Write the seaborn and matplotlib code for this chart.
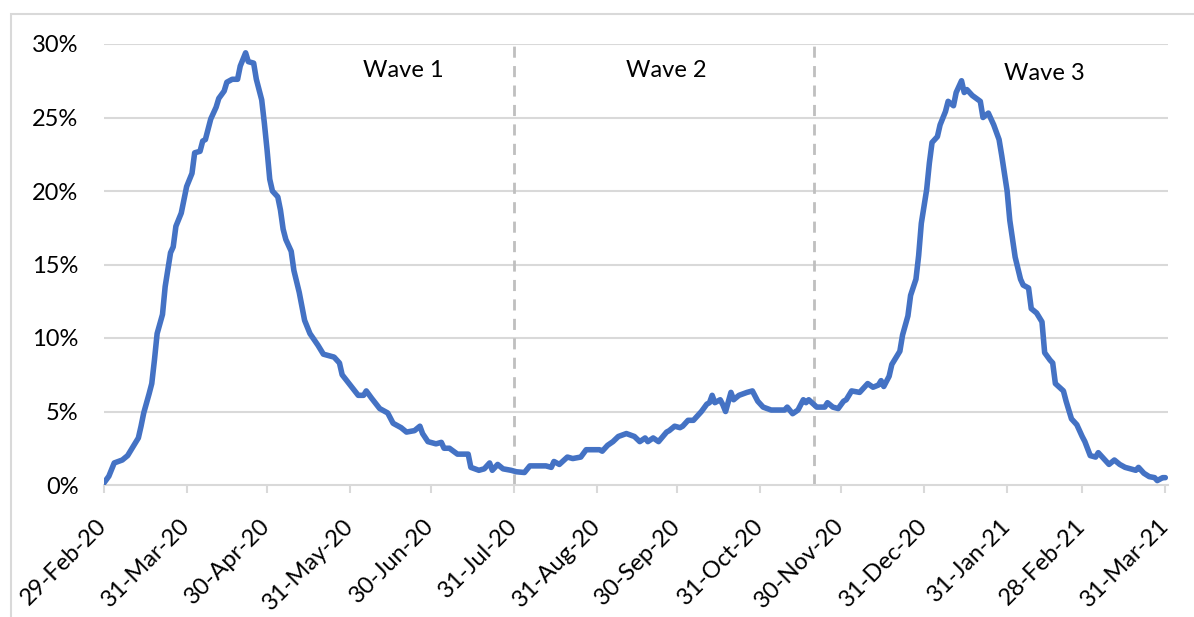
import numpy as np
import pandas as pd
import matplotlib
matplotlib.use("Agg")
import matplotlib.pyplot as plt
import matplotlib.dates as mdates
from matplotlib.patches import Rectangle
import seaborn as sns

# ---- data ----
start_date = "2020-02-29"
day_offset = [0, 2, 4, 7, 9, 11, 13, 14, 15, 17, 18, 19, 20, 22, 23, 25, 26, 27, 29, 31,
              33, 34, 36, 37, 38, 40, 42, 43, 45, 46, 48, 50, 51, 53, 54, 56, 57, 59, 60, 61,
              62, 63, 65, 66, 67, 68, 70, 71, 73, 75, 77, 80, 82, 86, 88, 89, 92, 95, 97, 98,
              100, 103, 106, 108, 111, 113, 116, 118, 119, 121, 124, 126, 127, 129, 132, 136, 137, 140, 142, 144,
              145, 147, 149, 152, 154, 157, 159, 165, 167, 168, 170, 173, 175, 178, 180, 185, 186, 188, 190, 192,
              195, 198, 200, 202, 203, 205, 207, 210, 211, 213, 215, 216, 218, 220, 223, 225, 226, 227, 228, 230,
              231, 232, 234, 235, 237, 240, 242, 244, 246, 249, 254, 255, 257, 259, 261, 262, 263, 266, 269, 270,
              272, 274, 276, 277, 279, 282, 285, 287, 289, 290, 291, 293, 294, 297, 298, 300, 301, 303, 304, 305,
              307, 308, 309, 311, 312, 314, 315, 317, 318, 320, 321, 322, 324, 327, 328, 330, 332, 334, 335, 337,
              338, 340, 342, 343, 345, 346, 348, 350, 351, 353, 354, 355, 358, 359, 361, 363, 365, 366, 368, 370,
              371, 373, 375, 377, 379, 381, 383, 385, 386, 388, 390, 392, 393, 395, 396]
positivity_pct = [0.1, 0.6, 1.5, 1.7, 2.0, 2.6, 3.2, 4.0, 4.9, 6.2, 6.9, 8.5, 10.3, 11.6, 13.5, 15.8, 16.2, 17.6, 18.5, 20.3,
                  21.2, 22.6, 22.7, 23.4, 23.5, 24.9, 25.7, 26.3, 26.8, 27.4, 27.6, 27.6, 28.5, 29.4, 28.8, 28.7, 27.6, 26.2, 24.6, 22.8,
                  20.8, 20.0, 19.6, 18.7, 17.4, 16.7, 15.9, 14.6, 13.1, 11.2, 10.3, 9.5, 8.9, 8.7, 8.3, 7.5, 6.8, 6.1, 6.1, 6.4,
                  5.9, 5.2, 4.9, 4.2, 3.9, 3.6, 3.7, 4.0, 3.5, 2.95, 2.8, 2.9, 2.5, 2.5, 2.1, 2.1, 1.2, 1.0, 1.1, 1.5,
                  1.0, 1.4, 1.1, 1.0, 0.9, 0.85, 1.3, 1.3, 1.2, 1.6, 1.4, 1.9, 1.8, 1.9, 2.4, 2.4, 2.3, 2.7, 2.95, 3.3,
                  3.5, 3.3, 2.95, 3.2, 2.95, 3.2, 2.95, 3.6, 3.7, 4.0, 3.9, 4.0, 4.4, 4.4, 5.0, 5.5, 5.6, 6.1, 5.6, 5.8,
                  5.45, 5.0, 6.3, 5.8, 6.1, 6.3, 6.4, 5.7, 5.3, 5.1, 5.1, 5.3, 4.85, 5.1, 5.8, 5.6, 5.8, 5.3, 5.3, 5.6,
                  5.3, 5.2, 5.7, 5.8, 6.4, 6.3, 6.9, 6.65, 6.8, 7.1, 6.7, 7.4, 8.2, 9.1, 10.2, 11.5, 12.9, 14.0, 15.6, 17.8,
                  20.1, 21.9, 23.3, 23.7, 24.5, 25.4, 26.1, 25.8, 26.7, 27.5, 26.7, 26.9, 26.5, 26.1, 25.0, 25.3, 24.5, 23.5, 22.4, 20.0,
                  18.0, 15.5, 14.0, 13.6, 13.4, 12.0, 11.7, 11.1, 9.0, 8.5, 8.3, 6.9, 6.4, 5.7, 4.5, 4.1, 3.3, 2.95, 2.0, 1.9,
                  2.2, 1.8, 1.4, 1.7, 1.4, 1.2, 1.1, 1.0, 1.2, 0.8, 0.57, 0.5, 0.3, 0.5, 0.5]
tick_dates = ["2020-02-29", "2020-03-31", "2020-04-30", "2020-05-31", "2020-06-30", "2020-07-31",
              "2020-08-31", "2020-09-30", "2020-10-31", "2020-11-30", "2020-12-31", "2021-01-31",
              "2021-02-28", "2021-03-31"]
y_ticks = [0, 5, 10, 15, 20, 25, 30]
wave_labels = ["Wave 1", "Wave 2", "Wave 3"]
wave_bounds = ["2020-07-31", "2020-11-20"]

base = pd.Timestamp(start_date)
df = pd.DataFrame({
    "date": base + pd.to_timedelta(day_offset, unit="D"),
    "value": positivity_pct,
})

sns.set_theme(style="white")
plt.rcParams["font.family"] = ["Lato", "DejaVu Sans"]

W, H = 1194, 617
fig = plt.figure(figsize=(W / 100, H / 100), dpi=100)
ax = fig.add_axes([103.5 / W, 1 - 485 / H, (1168 - 103.5) / W, (485 - 44) / H])

grid_c = "#D9D9D9"
for yv in y_ticks[1:]:
    ax.axhline(yv, color=grid_c, lw=1.5, zorder=0)

for b in wave_bounds:
    ax.axvline(pd.Timestamp(b), color="#BFBFBF", lw=2, ls=(0, (4, 3)), zorder=1)

sns.lineplot(data=df, x="date", y="value", ax=ax, color="#4472C4", lw=4.0, zorder=3)

ax.set_xlim(base, base + pd.Timedelta(days=397))
ax.set_ylim(0, 30)

ax.set_yticks(y_ticks)
ax.set_yticklabels([f"{v}%" for v in y_ticks])
ax.tick_params(axis="y", length=0, pad=18, labelsize=17, labelcolor="#000000")

tdates = pd.to_datetime(tick_dates)
ax.set_xticks(tdates)
ax.set_xticklabels([d.strftime("%d-%b-%y") for d in tdates], rotation=45, ha="right",
                   va="center", rotation_mode="anchor")
ax.tick_params(axis="x", length=6, width=1.5, color=grid_c, direction="out", pad=21,
               labelsize=17, labelcolor="#000000", bottom=True)

for s in ["top", "right", "left"]:
    ax.spines[s].set_visible(False)
ax.spines["bottom"].set_color(grid_c)
ax.spines["bottom"].set_linewidth(1.5)
ax.set_xlabel("")
ax.set_ylabel("")

label_pos = [("2020-06-20", 28.2), ("2020-09-26", 28.2), ("2021-02-14", 28.0)]
for txt, (d, yv) in zip(wave_labels, label_pos):
    ax.text(pd.Timestamp(d), yv, txt, ha="center", va="center", fontsize=17, color="#000000")

fig.add_artist(Rectangle((11 / W, -0.1), 1.2, 1.1 - 14 / H, transform=fig.transFigure,
                         fill=False, edgecolor=grid_c, lw=1.5))

fig.savefig("out.png", dpi=100)
